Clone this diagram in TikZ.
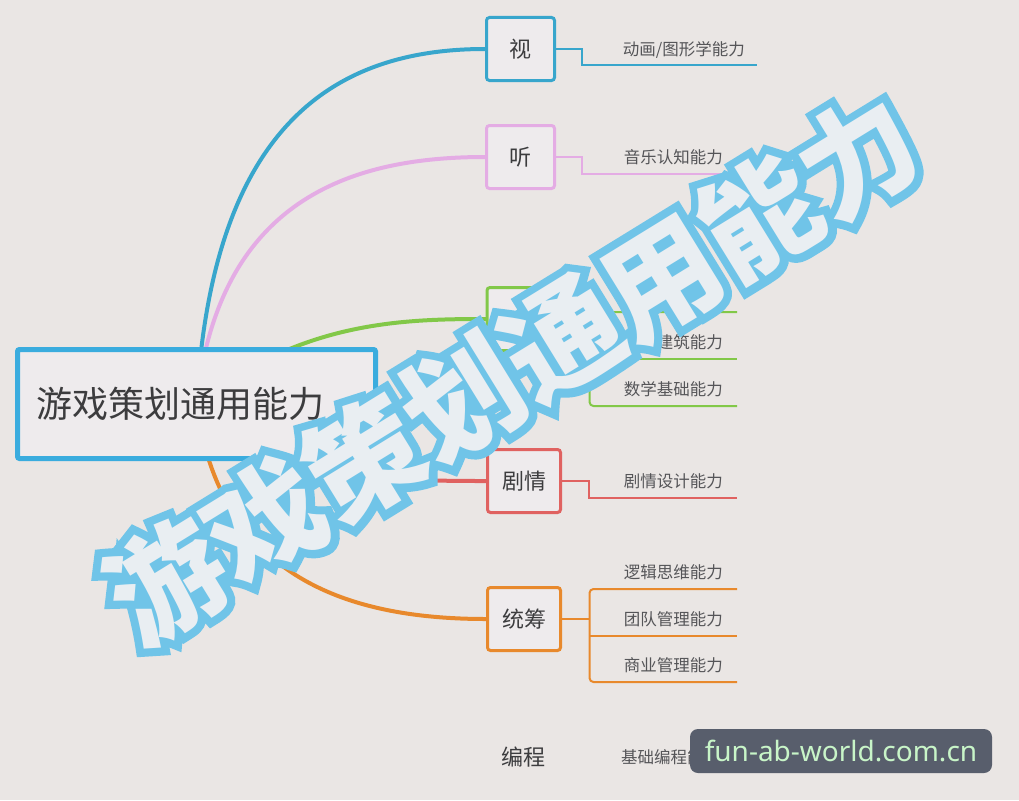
\documentclass[tikz,border=0pt]{standalone}
\usepackage{fontspec}
\setmainfont{Noto Sans CJK SC}
\newfontfamily\sitefont{Noto Sans}
\newfontfamily\stampfont{Noto Sans CJK SC}
\newfontfamily\stampedge[BoldFeatures={FakeBold=14}]{Noto Sans CJK SC}
\usetikzlibrary{positioning,backgrounds,calc}
\definecolor{paper}{RGB}{234,230,228}
\definecolor{boxfill}{RGB}{238,235,237}
\definecolor{ink}{RGB}{60,60,62}
\definecolor{leafink}{RGB}{85,85,88}
\definecolor{mainblue}{RGB}{58,172,222}
\definecolor{seeblue}{RGB}{56,166,204}
\definecolor{hearpink}{RGB}{228,172,228}
\definecolor{spacegreen}{RGB}{130,200,72}
\definecolor{storyred}{RGB}{224,98,96}
\definecolor{planorange}{RGB}{232,137,44}
\definecolor{stampblue}{RGB}{112,196,232}
\definecolor{stampfill}{RGB}{233,238,242}
\definecolor{sitebox}{RGB}{88,94,108}
\definecolor{sitegreen}{RGB}{200,245,200}
\tikzset{
topic/.style={rectangle, rounded corners=2pt, draw=mainblue, line width=5pt, fill=boxfill, text width=320pt, align=left, inner xsep=19pt, minimum height=109pt, font=\fontsize{36}{40}\selectfont, text=ink},
branch/.style={rectangle, rounded corners=3pt, line width=3pt, fill=boxfill, minimum width=68pt, minimum height=63pt, font=\fontsize{22}{26}\selectfont, text=ink},
leaf/.style={anchor=east, inner sep=0pt, font=\fontsize{16.5}{20}\selectfont, text=leafink},
curve/.style={line width=4pt, line cap=round},
twig/.style={line width=2pt},
stamp/.style={rotate=31.6, inner sep=0pt},
}
\begin{document}
\begin{tikzpicture}[x=1pt, y=-1pt]
\useasboundingbox (0,0) rectangle (1019,800);

\node[topic] (main) at (196.5,404) {游戏策划通用能力};

\node[branch, draw=seeblue] (see) at (520.5,49) {视};
\node[branch, draw=hearpink] (hear) at (520.5,157) {听};
\node[branch, draw=spacegreen] (space) at (521,319) {};
\node[branch, draw=storyred, minimum width=73pt] (story) at (524,481) {剧情};
\node[branch, draw=planorange, minimum width=73pt] (plan) at (524,619) {统筹};
\node[branch, draw=none, fill=none] (code) at (523,757) {编程};

\node[leaf] (anim) at (745,50) {动画/图形学能力};
\node[leaf] (music) at (723,157) {音乐认知能力};
\node[leaf] (build) at (723,342) {建筑能力};
\node[leaf] (math) at (723,389) {数学基础能力};
\node[leaf] (plot) at (723,481) {剧情设计能力};
\node[leaf] (logic) at (723,572) {逻辑思维能力};
\node[leaf] (team) at (723,619) {团队管理能力};
\node[leaf] (biz) at (723,665) {商业管理能力};
\node[leaf, anchor=west] (basic) at (621,757) {基础编程能力};

\coordinate (anim end) at (757,65);
\coordinate (music end) at (737,174);
\coordinate (space end1) at (737,312);
\coordinate (space end2) at (737,359);
\coordinate (space end3) at (737,406);
\coordinate (plot end) at (737,498);
\coordinate (plan end1) at (737,589);
\coordinate (plan end2) at (737,636);
\coordinate (plan end3) at (737,682);
\coordinate (space fork) at ($(space.east)+(33,0)$);
\coordinate (plan fork) at ($(plan.east)+(27.5,0)$);

\draw[twig, seeblue] (see.east) -- ++(26,0) |- (anim end);
\draw[twig, hearpink] (hear.east) -- ++(26,0) |- (music end);
\draw[twig, spacegreen] (space.east) -- (space fork);
\draw[twig, spacegreen, rounded corners=4pt] (space end1) -| (space fork) |- (space end3);
\draw[twig, spacegreen] (space fork |- space end2) -- (space end2);
\draw[twig, storyred] (story.east) -- ++(27,0) |- (plot end);
\draw[twig, planorange] (plan.east) -- (plan fork);
\draw[twig, planorange, rounded corners=4pt] (plan end1) -| (plan fork) |- (plan end3);
\draw[twig, planorange] (plan fork |- plan end2) -- (plan end2);

\begin{scope}[on background layer]
\fill[paper] (0,0) rectangle (1019,800);
\draw[curve, seeblue] (main.center) .. controls (212,130) and (330,49) .. (see.west);
\draw[curve, hearpink] (main.center) .. controls (218,200) and (350,157) .. (hear.west);
\draw[curve, spacegreen] (main.center) .. controls (300,322) and (400,319) .. (space.west);
\draw[curve, storyred] (main.center) .. controls (300,481) and (400,481) .. (story.west);
\draw[curve, planorange] (main.center) .. controls (218,565) and (330,619) .. (plan.west);
\end{scope}

% big title stamp: blue edge below, pale letters on top
\node[stamp, text=stampblue, font=\stampedge\fontsize{116}{118}\selectfont\bfseries] (stamp edge) at (512,368) {游戏策划通用能力};
\node[stamp, text=stampfill, font=\stampfont\fontsize{116}{118}\selectfont\bfseries] (stamp) at (512,368) {游戏策划通用能力};

\node[fill=sitebox, rounded corners=8pt, minimum width=302pt, minimum height=44pt, inner sep=0pt, text=sitegreen, font=\sitefont\fontsize{28}{30}\selectfont] (site) at (841,751) {fun-ab-world.com.cn};
\end{tikzpicture}
\end{document}
